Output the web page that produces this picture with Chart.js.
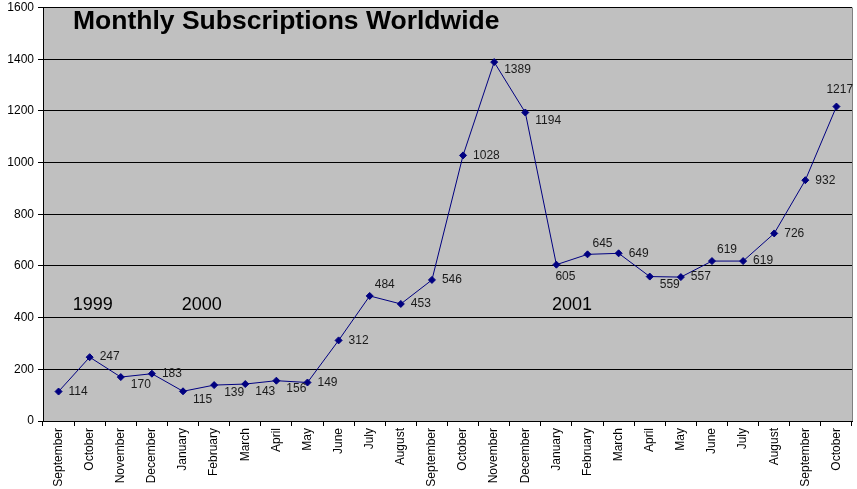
<!DOCTYPE html>
<html>
<head>
    <title>Monthly Subscriptions Worldwide</title>
    <script src="https://cdn.jsdelivr.net/npm/chart.js"></script>
    <style>
        body { margin: 0; padding: 0; background: #fff; }
        #wrap { width: 857px; height: 489px; }
    </style>
</head>
<body>
<div id="wrap"><canvas id="subsChart"></canvas></div>
<script>
// months from September 1999 to October 2001
const months = ['September', 'October', 'November', 'December',
    'January', 'February', 'March', 'April', 'May', 'June', 'July', 'August',
    'September', 'October', 'November', 'December',
    'January', 'February', 'March', 'April', 'May', 'June', 'July', 'August',
    'September', 'October'];
const subscriptions = [114, 247, 170, 183, 115, 139, 143, 156, 149, 312, 484, 453,
    546, 1028, 1389, 1194, 605, 645, 649, 559, 557, 619, 619, 726, 932, 1217];
const years = ['1999', '2000', '2001'];
const yearIndex = [1.1, 4.6, 16.5];

// where each value label sits next to its point: r = right, rb = right-below, a = above, b = below
const labelPlace = ['r', 'r', 'rb', 'r', 'rb', 'rb', 'rb', 'rb', 'r', 'r', 'a', 'r',
    'r', 'r', 'rb', 'rb', 'b', 'a', 'r', 'rb', 'r', 'a', 'r', 'r', 'r', 'a'];

const plotBg = {
    id: 'plotBg',
    beforeDraw(chart) {
        const { ctx, chartArea: a } = chart;
        ctx.save();
        ctx.fillStyle = '#c0c0c0';
        ctx.fillRect(a.left, a.top, a.right - a.left, a.bottom - a.top);
        ctx.strokeStyle = '#808080';
        ctx.lineWidth = 1;
        ctx.beginPath();
        ctx.moveTo(a.right + 0.5, a.top);
        ctx.lineTo(a.right + 0.5, a.bottom);
        ctx.stroke();
        ctx.restore();
    }
};

const texts = {
    id: 'texts',
    afterDatasetsDraw(chart) {
        const { ctx } = chart;
        const x = chart.scales.x, y = chart.scales.y;
        const meta = chart.getDatasetMeta(0);
        ctx.save();
        ctx.fillStyle = '#000';
        ctx.textBaseline = 'middle';
        ctx.font = 'bold 26.5px Arial, "Liberation Sans", sans-serif';
        ctx.textAlign = 'left';
        ctx.fillText('Monthly Subscriptions Worldwide', 73, 22);

        ctx.font = '18px Arial, "Liberation Sans", sans-serif';
        ctx.textAlign = 'center';
        years.forEach((t, i) => {
            ctx.fillText(t, x.getPixelForValue(yearIndex[i]), y.getPixelForValue(448));
        });

        ctx.font = '12px Arial, "Liberation Sans", sans-serif';
        ctx.fillStyle = '#1a1a1a';
        meta.data.forEach((pt, i) => {
            const v = String(subscriptions[i]);
            let dx = 10, dy = 0;
            if (labelPlace[i] === 'rb') { dy = 8; }
            if (labelPlace[i] === 'a') { dx = 5; dy = -11; }
            if (labelPlace[i] === 'b') { dx = -1; dy = 12; }
            if (i === subscriptions.length - 1) { dx = -10; dy = -17; }
            ctx.textAlign = 'left';
            ctx.fillText(v, pt.x + dx, pt.y + dy);
        });
        ctx.restore();
    }
};

const ctx = document.getElementById('subsChart').getContext('2d');
new Chart(ctx, {
    type: 'line',
    data: {
        labels: months,
        datasets: [{
            data: subscriptions,
            borderColor: '#000080',
            backgroundColor: '#000080',
            borderWidth: 1,
            pointStyle: 'rectRot',
            pointRadius: 3.5,
            pointHoverRadius: 3.5,
            tension: 0
        }]
    },
    options: {
        responsive: true,
        maintainAspectRatio: false,
        animation: false,
        layout: { padding: { top: 0, right: 5, left: 0, bottom: 0 } },
        plugins: {
            legend: { display: false },
            tooltip: { enabled: false },
            title: { display: false }
        },
        scales: {
            x: {
                offset: true,
                grid: {
                    offset: true,
                    drawOnChartArea: false,
                    color: '#000',
                    tickLength: 5
                },
                border: { color: '#000', width: 1 },
                ticks: {
                    color: '#000',
                    font: { family: 'Arial, "Liberation Sans", sans-serif', size: 12 },
                    minRotation: 90,
                    maxRotation: 90,
                    autoSkip: false,
                    padding: 2
                },
                afterFit(s) { s.height = 68; }
            },
            y: {
                min: 0,
                max: 1600,
                ticks: {
                    stepSize: 200,
                    color: '#000',
                    font: { family: 'Arial, "Liberation Sans", sans-serif', size: 12, lineHeight: 0.6 },
                    padding: 4,
                    callback: (v) => String(v)
                },
                grid: {
                    color: '#000',
                    tickLength: 5
                },
                border: { color: '#000', width: 1 },
                afterFit(s) { s.width = 43; }
            }
        }
    },
    plugins: [plotBg, texts]
});
</script>
</body>
</html>
